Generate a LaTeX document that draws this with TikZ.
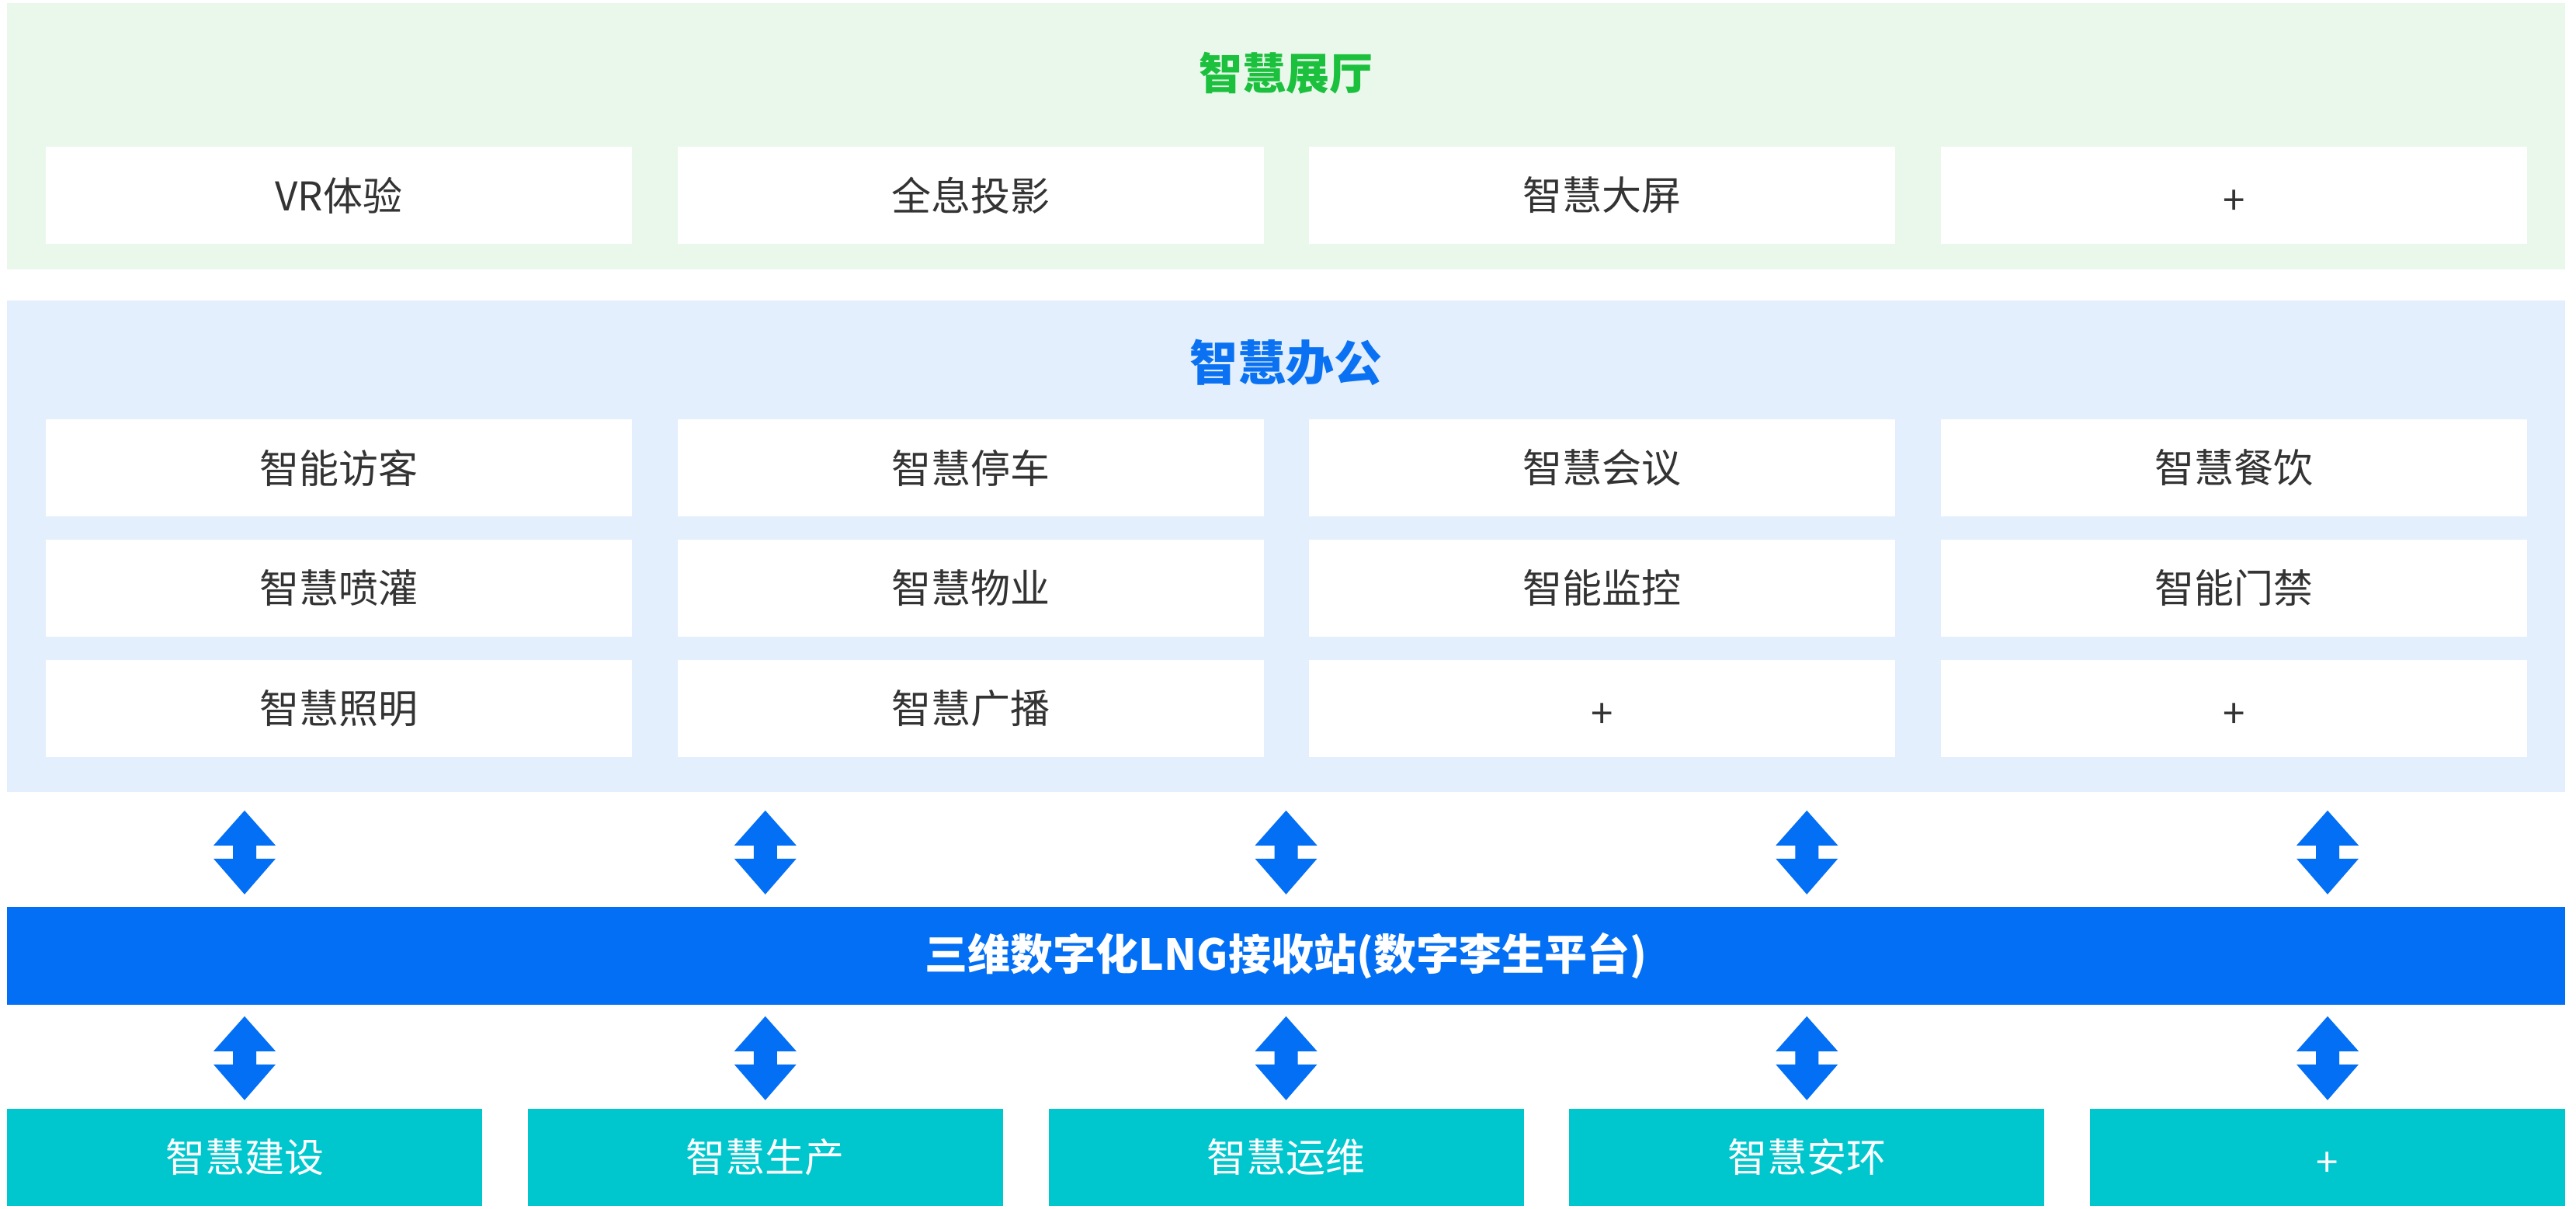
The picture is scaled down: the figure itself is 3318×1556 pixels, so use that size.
\documentclass[tikz,border=0pt]{standalone}
\usepackage{fontspec}
\setmainfont{Noto Sans CJK SC}
\definecolor{gpanel}{HTML}{EAF8EC}
\definecolor{gtitle}{HTML}{1BC03D}
\definecolor{bpanel}{HTML}{E3EFFD}
\definecolor{btitle}{HTML}{0A72F2}
\definecolor{barc}{HTML}{036FF5}
\definecolor{tealc}{HTML}{00C7CE}
\definecolor{txt}{HTML}{333333}
\tikzset{
  panel/.style={rectangle, inner sep=0pt, fill=#1, minimum width=3295pt},
  wbox/.style={rectangle, inner sep=0pt, fill=white, minimum width=755pt, minimum height=125pt,
    text=txt, font=\fontsize{51}{60}\selectfont},
  tbox/.style={rectangle, inner sep=0pt, fill=tealc, minimum width=612pt, minimum height=125pt,
    text=white, font=\fontsize{51}{60}\selectfont},
  plusfix/.style={text height=50pt, text depth=0pt},
  nofix/.style={},
  dblarrow/.pic={\fill[barc] (0,0) -- (40,45) -- (15,45) -- (15,62) -- (40,62) -- (0,108)
     -- (-40,62) -- (-15,62) -- (-15,45) -- (-40,45) -- cycle;}
}
\begin{document}
\begin{tikzpicture}[x=1pt,y=-1pt]
\useasboundingbox (0,0) rectangle (3318,1556);
\fill[white] (0,0) rectangle (3318,1556);
% panels
\node[panel=gpanel, minimum height=343pt] (hall) at (1656.5,175.5) {};
\node[panel=bpanel, minimum height=633pt] (office) at (1656.5,703.5) {};
\node[panel=barc, minimum height=126pt, text=white, font=\bfseries\fontsize{55}{60}\selectfont] (twin) at (1656.5,1231) {三维数字化LNG接收站(数字李生平台)};
% titles
\node[text=gtitle, font=\bfseries\fontsize{56}{60}\selectfont, inner sep=0pt] (hallt) at (1656.5,94) {智慧展厅};
\node[text=btitle, font=\bfseries\fontsize{62}{66}\selectfont, inner sep=0pt] (officet) at (1656.5,467) {智慧办公};
% hall row
\foreach \t/\s [count=\i from 0] in {VR体验/nofix,全息投影/nofix,智慧大屏/nofix,+/plusfix}
  \node[wbox,\s] (h\i) at ({436.5+\i*813.67},251.5) {\t};
% office rows
\foreach \t [count=\i from 0] in {智能访客,智慧停车,智慧会议,智慧餐饮}
  \node[wbox] (oa\i) at ({436.5+\i*813.67},602.5) {\t};
\foreach \t [count=\i from 0] in {智慧喷灌,智慧物业,智能监控,智能门禁}
  \node[wbox] (ob\i) at ({436.5+\i*813.67},757.5) {\t};
\foreach \t/\s [count=\i from 0] in {智慧照明/nofix,智慧广播/nofix,+/plusfix,+/plusfix}
  \node[wbox,\s] (oc\i) at ({436.5+\i*813.67},912.5) {\t};
% bottom row
\foreach \t/\s [count=\i from 0] in {智慧建设/nofix,智慧生产/nofix,智慧运维/nofix,智慧安环/nofix,+/plusfix}
  \node[tbox,\s] (t\i) at ({315+\i*670.75},1490.5) {\t};
% double arrows
\foreach \i in {0,...,4} {
  \pic at ([yshift=384pt]t\i.north) {dblarrow};
  \pic at ([yshift=119pt]t\i.north) {dblarrow};
}
\end{tikzpicture}
\end{document}
